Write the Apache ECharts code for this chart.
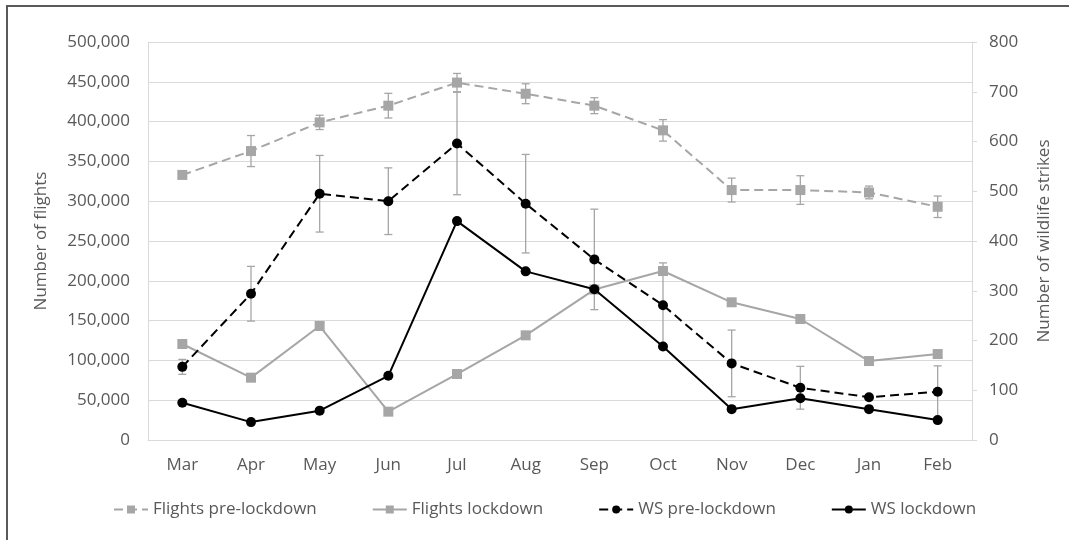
<!DOCTYPE html>
<html>
<head>
<meta charset="utf-8">
<script src="https://cdn.jsdelivr.net/npm/echarts@6/dist/echarts.min.js"></script>
<style>
html, body { margin: 0; padding: 0; background: #fff; }
#chart { width: 1069px; height: 540px; }
</style>
</head>
<body>
<div id="chart"></div>
<script>
// data
var months = ['Mar', 'Apr', 'May', 'Jun', 'Jul', 'Aug', 'Sep', 'Oct', 'Nov', 'Dec', 'Jan', 'Feb'];
var flightsPre = [333000, 363000, 399000, 420000, 449000, 435000, 420000, 389000, 314000, 314000, 311000, 293000];
var flightsPreErr = [3000, 19500, 9000, 15500, 11500, 12500, 10000, 13500, 15000, 18000, 8000, 13500];
var flightsLock = [120600, 78300, 143200, 35600, 82900, 131500, 189000, 212300, 173000, 152000, 99200, 108000];
var wsPre = [147, 294, 495, 480, 596, 475, 363, 271, 154, 105, 86, 97];
var wsPreErr = [15, 55, 77, 67, 103, 99, 101, 85, 67, 43, 0, 52];
var wsLock = [75, 36, 59, 129, 440, 339, 303, 188, 62, 84, 62, 40];
var leftTicks = [0, 500000, 50000];
var rightTicks = [0, 800, 100];

var FONT = 'Open Sans';
var GRAY = '#a6a6a6';
var TXT = '#595959';
var GRID = '#d9d9d9';

function errData(vals, errs) {
	var out = [];
	for (var i = 0; i < vals.length; i++) {
		out.push([i, vals[i] - errs[i], vals[i] + errs[i]]);
	}
	return out;
}

// error bar: vertical line + two caps
function renderErr(params, api) {
	var x = api.value(0);
	var lo = api.coord([x, api.value(1)]);
	var hi = api.coord([x, api.value(2)]);
	var w = 4;
	var st = { stroke: GRAY, lineWidth: 1.3 };
	return {
		type: 'group',
		children: [
			{ type: 'line', shape: { x1: lo[0], y1: lo[1], x2: hi[0], y2: hi[1] }, style: st },
			{ type: 'line', shape: { x1: lo[0] - w, y1: lo[1], x2: lo[0] + w, y2: lo[1] }, style: st },
			{ type: 'line', shape: { x1: hi[0] - w, y1: hi[1], x2: hi[0] + w, y2: hi[1] }, style: st }
		]
	};
}

var chart = echarts.init(document.getElementById('chart'));

var option = {
	animation: false,
	backgroundColor: '#fff',
	textStyle: { fontFamily: FONT },
	graphic: [{
		type: 'rect',
		shape: { x: 7, y: 6, width: 1200, height: 700 },
		style: { fill: 'none', stroke: '#595959', lineWidth: 2 },
		silent: true
	}],
	grid: { left: 148, right: 97, top: 42, bottom: 100 },
	legend: {
		data: ['Flights pre-lockdown', 'Flights lockdown', 'WS pre-lockdown', 'WS lockdown'],
		left: 108,
		top: 496,
		itemWidth: 34,
		itemHeight: 10,
		itemGap: 55,
		textStyle: { color: TXT, fontSize: 17, fontFamily: FONT }
	},
	xAxis: {
		type: 'category',
		data: months,
		boundaryGap: true,
		axisLine: { lineStyle: { color: GRID, width: 1 } },
		axisTick: { show: false },
		axisLabel: { color: TXT, fontSize: 17, margin: 17, fontFamily: FONT }
	},
	yAxis: [{
		type: 'value',
		min: leftTicks[0],
		max: leftTicks[1],
		interval: leftTicks[2],
		name: 'Number of flights',
		nameLocation: 'middle',
		nameGap: 98,
		nameTextStyle: { color: TXT, fontSize: 17, fontFamily: FONT },
		axisLine: { show: true, lineStyle: { color: GRID } },
		axisTick: { show: false },
		splitLine: { lineStyle: { color: GRID, width: 1 } },
		axisLabel: {
			color: TXT, fontSize: 17, margin: 18, fontFamily: FONT,
			formatter: function (v) { return v.toLocaleString('en-US'); }
		}
	}, {
		type: 'value',
		min: rightTicks[0],
		max: rightTicks[1],
		interval: rightTicks[2],
		position: 'right',
		name: 'Number of wildlife strikes',
		nameLocation: 'middle',
		nameGap: 64,
		nameRotate: 90,
		nameTextStyle: { color: TXT, fontSize: 17, fontFamily: FONT },
		axisLine: { show: true, lineStyle: { color: GRID } },
		axisTick: { show: true, length: 5, lineStyle: { color: GRID } },
		splitLine: { show: false },
		axisLabel: { color: TXT, fontSize: 17, margin: 17, fontFamily: FONT }
	}],
	series: [
		{
			name: 'flightsPreErr', type: 'custom', yAxisIndex: 0, z: 1,
			renderItem: renderErr, data: errData(flightsPre, flightsPreErr), silent: true
		},
		{
			name: 'wsPreErr', type: 'custom', yAxisIndex: 1, z: 1,
			renderItem: renderErr, data: errData(wsPre, wsPreErr), silent: true
		},
		{
			name: 'Flights pre-lockdown', type: 'line', yAxisIndex: 0, z: 3,
			data: flightsPre, symbol: 'rect', symbolSize: 10, showAllSymbol: true,
			itemStyle: { color: GRAY },
			lineStyle: { color: GRAY, width: 2, type: [9, 5] }
		},
		{
			name: 'Flights lockdown', type: 'line', yAxisIndex: 0, z: 3,
			data: flightsLock, symbol: 'rect', symbolSize: 10, showAllSymbol: true,
			itemStyle: { color: GRAY },
			lineStyle: { color: GRAY, width: 2 }
		},
		{
			name: 'WS pre-lockdown', type: 'line', yAxisIndex: 1, z: 4,
			data: wsPre, symbol: 'circle', symbolSize: 10, showAllSymbol: true,
			itemStyle: { color: '#000' },
			lineStyle: { color: '#000', width: 2, type: [9, 5] }
		},
		{
			name: 'WS lockdown', type: 'line', yAxisIndex: 1, z: 4,
			data: wsLock, symbol: 'circle', symbolSize: 10, showAllSymbol: true,
			itemStyle: { color: '#000' },
			lineStyle: { color: '#000', width: 2 }
		}
	]
};

chart.setOption(option);
</script>
</body>
</html>
